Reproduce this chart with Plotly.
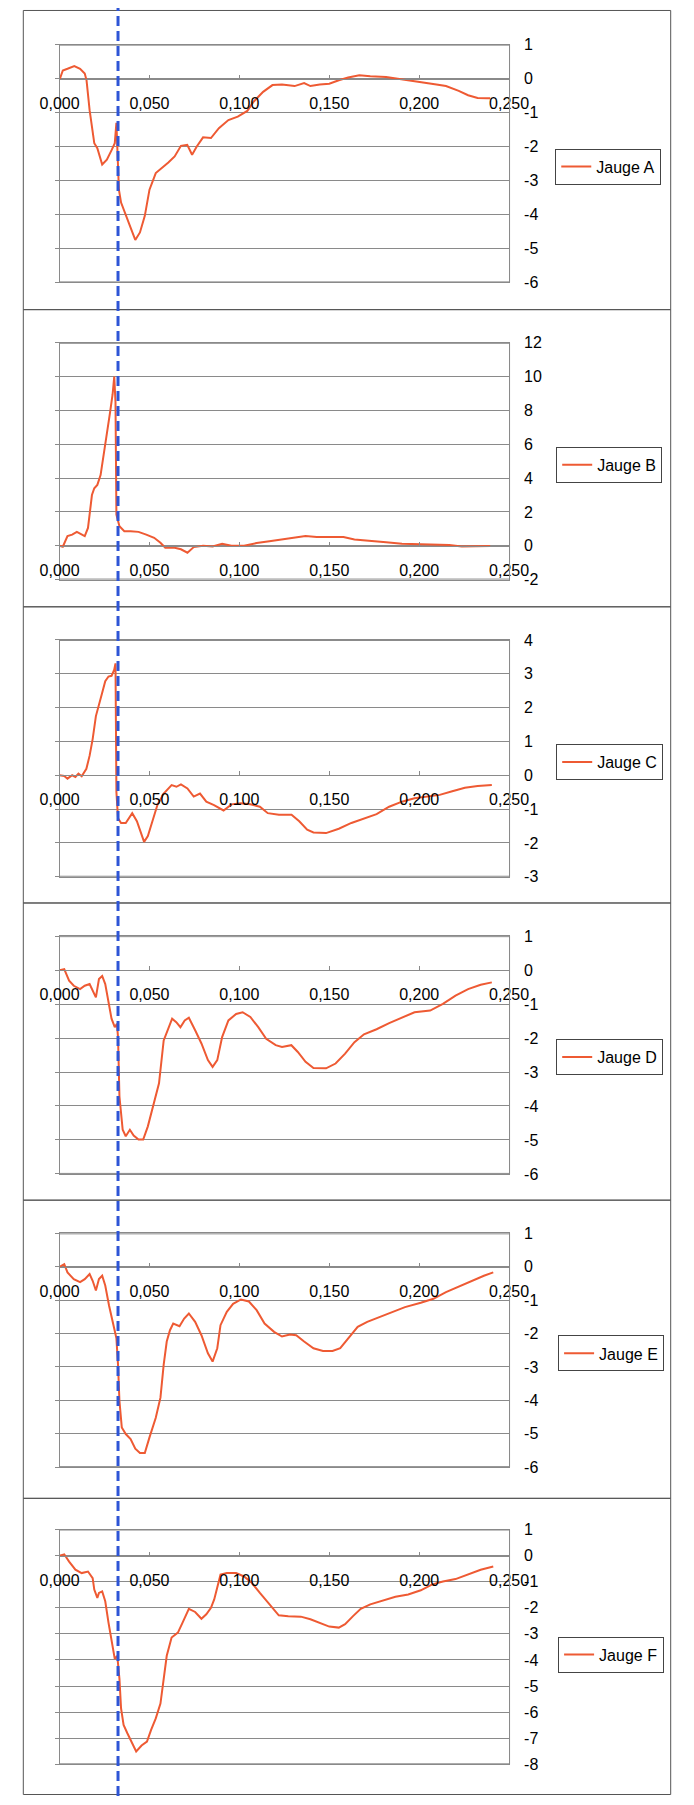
import plotly.graph_objects as go

W, H = 694, 1805

# ---------------- data (time in s, gauge value) ----------------
t_A = [0.0, 0.0018, 0.0044, 0.0082, 0.0114, 0.014, 0.015, 0.0167, 0.0193, 0.021, 0.0237, 0.0263, 0.029, 0.0307,
       0.0316, 0.0321, 0.033, 0.0342, 0.0368, 0.0395, 0.0421, 0.0447, 0.0474, 0.05, 0.0535, 0.057, 0.0605, 0.064,
       0.0675, 0.071, 0.0737, 0.0763, 0.0798, 0.0842, 0.0886, 0.0939, 0.0991, 0.1044, 0.1079, 0.1132, 0.1184,
       0.1237, 0.1307, 0.136, 0.1395, 0.1447, 0.15, 0.1553, 0.1605, 0.1667, 0.1728, 0.1816, 0.1886, 0.1956,
       0.2026, 0.2096, 0.2149, 0.222, 0.2272, 0.2325, 0.2377, 0.2395]
jauge_A = [-0.03, 0.24, 0.29, 0.37, 0.29, 0.15, -0.05, -0.93, -1.9, -2.05, -2.53, -2.39, -2.1, -1.9,
           -1.3, -2.0, -3.27, -3.65, -4.04, -4.39, -4.75, -4.53, -4.04, -3.27, -2.78, -2.63, -2.47, -2.29,
           -1.98, -1.95, -2.24, -2.0, -1.73, -1.75, -1.46, -1.22, -1.12, -0.95, -0.68, -0.39, -0.19,
           -0.17, -0.22, -0.13, -0.22, -0.17, -0.15, -0.05, 0.03, 0.10, 0.07, 0.05, 0.0, -0.07,
           -0.12, -0.17, -0.22, -0.36, -0.49, -0.57, -0.58, -0.58]

t_B = [0.0, 0.0018, 0.0044, 0.007, 0.0096, 0.0123, 0.014, 0.0158, 0.018, 0.0193, 0.021, 0.0228, 0.0246, 0.0263,
       0.0281, 0.0295, 0.0304, 0.0311, 0.0316, 0.0333, 0.036, 0.0395, 0.0439, 0.0482, 0.0526, 0.0561, 0.0588,
       0.064, 0.0675, 0.0711, 0.0746, 0.0798, 0.0851, 0.0904, 0.0956, 0.1026, 0.1096, 0.1167, 0.1237, 0.1307,
       0.1368, 0.143, 0.1518, 0.1579, 0.164, 0.1728, 0.1816, 0.1904, 0.2009, 0.2096, 0.2167, 0.2237, 0.2325,
       0.2395]
jauge_B = [0.0, -0.06, 0.57, 0.66, 0.82, 0.66, 0.57, 1.05, 3.0, 3.4, 3.6, 4.18, 5.35, 6.5,
           7.9, 8.96, 10.0, 8.5, 1.84, 1.15, 0.86, 0.86, 0.82, 0.66, 0.47, 0.18, -0.12,
           -0.12, -0.21, -0.41, -0.08, 0.0, -0.04, 0.12, 0.0, 0.0, 0.16, 0.27, 0.37, 0.47,
           0.57, 0.51, 0.51, 0.51, 0.37, 0.27, 0.21, 0.12, 0.08, 0.08, 0.04, -0.04, -0.04,
           -0.02]

t_C = [0.0, 0.0026, 0.0044, 0.007, 0.0088, 0.0105, 0.0123, 0.0149, 0.0167, 0.0184, 0.0202, 0.0219, 0.0237,
       0.0254, 0.0272, 0.0289, 0.0304, 0.0311, 0.0316, 0.0325, 0.0342, 0.0368, 0.0404, 0.043, 0.0456, 0.047,
       0.0491, 0.0518, 0.0544, 0.0579, 0.0623, 0.065, 0.0675, 0.0711, 0.0746, 0.0781, 0.0816, 0.0859, 0.0912,
       0.0956, 0.1009, 0.1061, 0.1114, 0.1158, 0.122, 0.129, 0.1333, 0.1377, 0.1412, 0.1482, 0.1553, 0.1623,
       0.1693, 0.1763, 0.1833, 0.1904, 0.1974, 0.2044, 0.2114, 0.2184, 0.2254, 0.2325, 0.2404]
jauge_C = [0.0, -0.02, -0.10, 0.0, -0.05, 0.05, -0.03, 0.19, 0.58, 1.07, 1.75, 2.05, 2.44,
           2.78, 2.92, 2.94, 3.12, 3.31, -0.49, -1.27, -1.41, -1.41, -1.12, -1.36, -1.75, -1.97,
           -1.80, -1.36, -0.88, -0.54, -0.29, -0.34, -0.27, -0.39, -0.63, -0.54, -0.78, -0.88, -1.04,
           -0.86, -0.83, -0.86, -0.93, -1.12, -1.17, -1.17, -1.36, -1.61, -1.69, -1.71, -1.58, -1.41,
           -1.27, -1.15, -0.93, -0.78, -0.68, -0.63, -0.58, -0.47, -0.37, -0.32, -0.29]

t_D = [0.0, 0.0026, 0.0053, 0.0079, 0.0114, 0.014, 0.0167, 0.0184, 0.0202, 0.0219, 0.0237, 0.0254, 0.0272,
       0.0289, 0.0307, 0.0319, 0.0325, 0.0333, 0.0351, 0.0368, 0.0391, 0.0412, 0.0439, 0.0465, 0.0491, 0.0526,
       0.0553, 0.0579, 0.0605, 0.0626, 0.0649, 0.0672, 0.0696, 0.0719, 0.0754, 0.0789, 0.0825, 0.0851, 0.0877,
       0.0904, 0.0939, 0.0982, 0.1018, 0.1061, 0.1105, 0.1149, 0.1202, 0.1237, 0.1289, 0.1325, 0.1368, 0.1412,
       0.1482, 0.1535, 0.1588, 0.164, 0.1693, 0.1763, 0.1833, 0.1904, 0.1974, 0.2061, 0.2132, 0.2202, 0.2272,
       0.2342, 0.2404]
jauge_D = [0.0, 0.03, -0.31, -0.46, -0.56, -0.46, -0.41, -0.60, -0.80, -0.26, -0.17, -0.41, -0.99,
           -1.43, -1.68, -1.58, -1.97, -3.72, -4.70, -4.89, -4.70, -4.87, -4.99, -4.99, -4.60, -3.92,
           -3.33, -2.07, -1.68, -1.43, -1.53, -1.68, -1.48, -1.40, -1.77, -2.16, -2.65, -2.85, -2.65,
           -1.97, -1.48, -1.29, -1.24, -1.38, -1.68, -2.02, -2.21, -2.26, -2.21, -2.41, -2.70, -2.88,
           -2.89, -2.75, -2.46, -2.12, -1.89, -1.74, -1.56, -1.40, -1.24, -1.19, -0.99, -0.75, -0.56,
           -0.43, -0.36]

t_E = [0.0, 0.0026, 0.0044, 0.0079, 0.0114, 0.014, 0.0167, 0.0184, 0.0202, 0.0219, 0.0237, 0.0254, 0.0275,
       0.0298, 0.0316, 0.0325, 0.0333, 0.0346, 0.0368, 0.0395, 0.0421, 0.0447, 0.0474, 0.05, 0.0535, 0.0561,
       0.0579, 0.0596, 0.0614, 0.0632, 0.0667, 0.0693, 0.0719, 0.0754, 0.0789, 0.0825, 0.0851, 0.0877, 0.0895,
       0.093, 0.0965, 0.1009, 0.1053, 0.1096, 0.114, 0.1193, 0.1237, 0.1281, 0.1316, 0.136, 0.1412, 0.1465,
       0.1518, 0.1561, 0.1605, 0.1658, 0.1711, 0.1781, 0.1851, 0.1921, 0.2009, 0.2079, 0.2149, 0.222, 0.2289,
       0.236, 0.2412]
jauge_E = [0.0, 0.08, -0.17, -0.37, -0.46, -0.37, -0.22, -0.42, -0.71, -0.37, -0.27, -0.56, -1.16,
           -1.75, -2.14, -2.93, -4.02, -4.81, -5.01, -5.16, -5.45, -5.58, -5.58, -5.11, -4.52, -3.92,
           -2.93, -2.24, -1.90, -1.70, -1.78, -1.55, -1.40, -1.65, -2.05, -2.59, -2.84, -2.44, -1.75,
           -1.35, -1.11, -0.98, -1.04, -1.30, -1.70, -1.95, -2.09, -2.03, -2.05, -2.24, -2.44, -2.52,
           -2.52, -2.44, -2.14, -1.80, -1.65, -1.50, -1.37, -1.21, -1.08, -0.96, -0.76, -0.59, -0.43,
           -0.27, -0.17]

t_F = [0.0, 0.0026, 0.0053, 0.0088, 0.0123, 0.0158, 0.0184, 0.0193, 0.021, 0.0219, 0.0237, 0.0254, 0.0272,
       0.0289, 0.0307, 0.0321, 0.0333, 0.0342, 0.0356, 0.0377, 0.0404, 0.0426, 0.0456, 0.0486, 0.0509, 0.0535,
       0.0561, 0.0579, 0.0596, 0.0623, 0.0658, 0.0684, 0.0719, 0.0754, 0.0789, 0.0816, 0.0842, 0.086, 0.0877,
       0.0895, 0.093, 0.0982, 0.1026, 0.107, 0.1114, 0.1167, 0.1219, 0.1272, 0.1342, 0.1395, 0.1447, 0.15,
       0.1553, 0.1588, 0.1632, 0.1675, 0.1728, 0.1798, 0.1868, 0.1939, 0.2009, 0.207, 0.2132, 0.2202, 0.2272,
       0.2342, 0.2412]
jauge_F = [0.0, 0.05, -0.23, -0.54, -0.67, -0.61, -0.86, -1.30, -1.62, -1.43, -1.37, -1.75, -2.57,
           -3.33, -3.96, -3.84, -4.72, -5.86, -6.49, -6.81, -7.19, -7.51, -7.28, -7.13, -6.68, -6.24,
           -5.67, -4.72, -3.84, -3.14, -2.95, -2.57, -2.04, -2.16, -2.42, -2.25, -2.0, -1.68, -1.18,
           -0.73, -0.67, -0.67, -0.80, -1.05, -1.43, -1.87, -2.29, -2.32, -2.34, -2.44, -2.57, -2.72,
           -2.76, -2.63, -2.32, -2.04, -1.87, -1.71, -1.58, -1.49, -1.33, -1.11, -0.99, -0.90, -0.73,
           -0.54, -0.42]

series_names = ["Jauge A", "Jauge B", "Jauge C", "Jauge D", "Jauge E", "Jauge F"]
y_ranges = [(-6, 1, 1), (-2, 12, 2), (-3, 4, 1), (-6, 1, 1), (-6, 1, 1), (-8, 1, 1)]
x_ticks = [0.0, 0.05, 0.10, 0.15, 0.20, 0.25]
marker_time = 0.0325
# ---------------------------------------------------------------

series_t = [t_A, t_B, t_C, t_D, t_E, t_F]
series_y = [jauge_A, jauge_B, jauge_C, jauge_D, jauge_E, jauge_F]

# layout positions in pixels (top of figure = 0)
plot_top = [37, 338, 638, 937, 1237, 1536]
plot_bot = [277, 577, 877, 1177, 1473, 1773]
legend_top = [142, 443, 743, 1041, 1340, 1644]
legend_left = [568, 569, 569, 569, 571, 571]
panel_top = [2, 304, 604, 903, 1203, 1504]
panel_bottom = 1803
px_left, px_right = 42, 519

FONT = "Liberation Sans, Arial, sans-serif"
LINE_COLOR = "#EE5A33"
GRID = "#8a8a8a"

fig = go.Figure()
layout = dict(
    width=W, height=H,
    margin=dict(l=0, r=0, t=0, b=0),
    paper_bgcolor="white", plot_bgcolor="rgba(0,0,0,0)",
    separators=", ",
    font=dict(family=FONT, size=16, color="black"),
    showlegend=True,
)

def py(px):
    return 1 - px / H

def pxx(px):
    return px / W

shapes = []
for i in range(6):
    k = "" if i == 0 else str(i + 1)
    kl = str(i + 7)                      # overlay y axis carrying the right-hand labels
    kb = str(i + 13)                     # overlay x axis drawing the top/bottom frame
    ymin, ymax, dt = y_ranges[i]
    fig.add_trace(go.Scatter(
        x=series_t[i], y=series_y[i], mode="lines", name=series_names[i],
        line=dict(color=LINE_COLOR, width=2),
        xaxis="x" + k, yaxis="y" + k, legend="legend" + k,
    ))
    # invisible companion traces so the helper axes get rendered
    fig.add_trace(go.Scatter(
        x=series_t[i], y=series_y[i], mode="lines", showlegend=False,
        line=dict(width=0), opacity=0, hoverinfo="skip",
        xaxis="x" + k, yaxis="y" + kl,
    ))
    fig.add_trace(go.Scatter(
        x=series_t[i], y=series_y[i], mode="lines", showlegend=False,
        line=dict(width=0), opacity=0, hoverinfo="skip",
        xaxis="x" + kb, yaxis="y" + k,
    ))
    top, bot = plot_top[i], plot_bot[i]
    zero_px = top + (ymax - 0) / (ymax - ymin) * (bot - top)
    layout["xaxis" + k] = dict(
        domain=[pxx(px_left), pxx(px_right)], range=[0, 0.25],
        anchor="free", position=py(zero_px),
        tickvals=x_ticks, tickformat=".3f",
        showgrid=False, zeroline=False,
        showline=True, linecolor=GRID, linewidth=1,
        ticks="inside", ticklen=4, tickcolor=GRID,
        ticklabelstandoff=10,
        tickfont=dict(family=FONT, size=16, color="black"),
    )
    layout["xaxis" + kb] = dict(
        overlaying="x" + k, anchor="y" + k, side="bottom",
        range=[0, 0.25],
        showline=True, mirror=True, linecolor=GRID, linewidth=1,
        showticklabels=False, ticks="", showgrid=False, zeroline=False,
    )
    tv = list(range(ymin, ymax + 1, dt))
    layout["yaxis" + k] = dict(
        domain=[py(bot), py(top)], range=[ymin, ymax],
        anchor="x" + k, side="left",
        tickvals=tv, showticklabels=False,
        showgrid=True, gridcolor=GRID, gridwidth=1,
        zeroline=False,
        showline=True, mirror=True, linecolor=GRID, linewidth=1,
        ticks="outside", ticklen=4, tickcolor=GRID,
    )
    layout["yaxis" + kl] = dict(
        overlaying="y" + k, anchor="x" + k, side="right",
        range=[ymin, ymax],
        tickvals=tv, ticktext=[str(v) for v in tv],
        showgrid=False, zeroline=False, showline=False, ticks="",
        ticklabelstandoff=14,
        tickfont=dict(family=FONT, size=16, color="black"),
    )
    layout["legend" + k] = dict(
        x=pxx(legend_left[i]), y=py(legend_top[i]), xanchor="left", yanchor="top",
        bordercolor="#444444", borderwidth=1, bgcolor="white",
        font=dict(family=FONT, size=16, color="black"),
        itemwidth=30, tracegroupgap=0,
    )
    # plot-area frame as well (top / right / bottom edges)
    for (x0, y0, x1, y1) in [(px_left, top + 0.5, px_right + 0.5, top + 0.5),
                             (px_right + 0.5, top, px_right + 0.5, bot),
                             (px_left, bot - 0.5, px_right + 0.5, bot - 0.5)]:
        shapes.append(dict(type="line", xref="paper", yref="paper",
                           x0=pxx(x0), x1=pxx(x1), y0=py(y0), y1=py(y1),
                           line=dict(color=GRID, width=1), layer="above"))
    # chart-area border of each panel
    pb = panel_top[i + 1] if i < 5 else panel_bottom
    shapes.append(dict(type="rect", xref="paper", yref="paper",
                       x0=pxx(3.5), x1=pxx(690.5), y0=py(pb + 0.5), y1=py(panel_top[i] + 0.5),
                       line=dict(color="#555555", width=1), layer="below"))

# blue dashed marker through all panels
shapes.append(dict(type="line", xref="x", yref="paper", x0=marker_time, x1=marker_time,
                   y0=0, y1=1, line=dict(color="#2E55D6", width=3, dash="10px,5px"), layer="above"))

layout["shapes"] = shapes
fig.update_layout(**layout)
# remove the browser's default 8px page margin so the figure fills the window exactly
fig.write_html("out.html", config={"displayModeBar": False},
               post_script="document.body.style.margin='0px';document.body.style.overflow='hidden';")
